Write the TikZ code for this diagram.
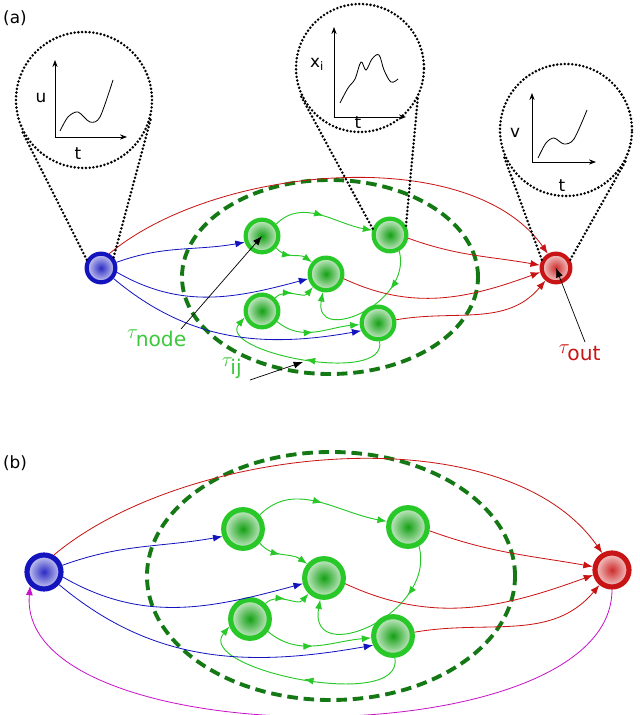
\documentclass[tikz,border=0pt]{standalone}
\usepackage{fontspec}
\setsansfont{DejaVu Sans}
\usetikzlibrary{arrows.meta,decorations.markings,shapes.geometric}
\definecolor{gb}{RGB}{40,200,40}
\definecolor{gf}{RGB}{20,160,20}
\definecolor{dg}{RGB}{20,120,20}
\definecolor{bb}{RGB}{20,20,190}
\definecolor{rr}{RGB}{200,20,20}
\definecolor{mg}{RGB}{200,20,200}
\definecolor{gt}{RGB}{60,200,60}
\begin{document}
\begin{tikzpicture}[x=0.03cm,y=0.03cm,
  gn/.style={circle,draw=gb,shade,inner color=gf,outer color=gf!20!white,inner sep=0pt},
  bn/.style={circle,draw=bb,shade,inner color=bb!90!white,outer color=bb!20!white,inner sep=0pt},
  rn/.style={circle,draw=rr,shade,inner color=rr!90!white,outer color=rr!20!white,inner sep=0pt},
  mk/.style={postaction={decorate},decoration={markings,mark=at position #1 with {\arrow{Latex[length=8pt,width=6pt]}}}},
  ge/.style={draw=gb,line width=0.8pt,mk=#1,-{Latex[length=8pt,width=6pt]}},
  ge/.default=0.5,
  re/.style={draw=rr,line width=0.7pt,-{Latex[length=8pt,width=6pt]}},
  be/.style={draw=bb,line width=0.7pt,-{Latex[length=8pt,width=6pt]}},
  ell/.style={draw=dg,line width=3.3pt,dash pattern=on 9pt off 5pt},
  dot/.style={line width=2.4pt,dash pattern=on 0pt off 3.2pt,line cap=round},
  ins/.style={circle,dot,draw,inner sep=0pt},
  ax/.style={line width=0.8pt,-{Stealth[length=6pt]}},
  lab/.style={font=\sffamily\Large}
]
\useasboundingbox (0,0) rectangle (640,715);
\newcommand{\netedges}{%
  \draw[ge] (A.40) to[out=45,in=170] (D.165);
  \draw[ge=0.45] (A.-40) to[out=-50,in=145] (B.140);
  \draw[ge=0.45] (C.45) to[out=45,in=-130] (B.-135);
  \draw[ge=0.45] (C.-35) to[out=-40,in=185] (E.185);
  \draw[ge=0.3] (D.-60) to[out=-75,in=-100,looseness=1.6] (B.-100);
  \draw[ge=0.5] (E.-85) to[out=-80,in=230,looseness=0.85] (C.200);
  \draw[re] (In.60) to[out=40,in=125,looseness=0.8] (Out.120);
  \draw[re] (D.-10) to[out=-20,in=170] (Out.170);
  \draw[re] (B.-15) to[out=-25,in=200] (Out.195);
  \draw[re] (E.10) to[out=10,in=230] (Out.230);
  \draw[be] (In.20) to[out=20,in=190] (A.200);
  \draw[be] (In.-15) to[out=-30,in=195] (B.195);
  \draw[be] (In.-40) to[out=-40,in=190] (E.205);
}
% ---------- panel (a)
\node[lab] (la) at (15,697) {(a)};
\node[ell,ellipse,minimum width=8.88cm,minimum height=5.82cm] (EA) at (330,438) {};
\begin{scope}[every node/.append style={line width=3.6pt}]
\node[bn,minimum size=0.86cm] (In) at (101,447) {};
\node[rn,minimum size=0.86cm] (Out) at (556,447) {};
\node[gn,minimum size=0.98cm] (A) at (262,479) {};
\node[gn,minimum size=0.98cm] (B) at (326,441) {};
\node[gn,minimum size=0.98cm] (C) at (262,404) {};
\node[gn,minimum size=0.98cm] (D) at (390,480) {};
\node[gn,minimum size=0.98cm] (E) at (378,392) {};
\end{scope}
\netedges
% insets
\node[ins,minimum size=4.08cm] (c1) at (84,615) {};
\node[ins,minimum size=3.84cm] (c2) at (360,647) {};
\node[ins,minimum size=3.96cm] (c3) at (566,585) {};
\draw[dot] (In.150) -- (c1.205);
\draw[dot] (In.40) -- (c1.-15);
\draw[dot] (D.160) -- (c2.205);
\draw[dot] (D.30) -- (c2.-28);
\draw[dot] (Out.150) -- (c3.203);
\draw[dot] (Out.30) -- (c3.-25);
\coordinate (o1) at (55,578); \coordinate (y1) at (55,655); \coordinate (x1) at (127,578);
\draw[ax] (o1) -- (y1); \draw[ax] (o1) -- (x1);
\draw[line width=0.7pt] plot[smooth] coordinates {(60,584)(68,598)(78,603)(90,593)(100,598)(113,635)};
\node[lab] (u) at (41,617) {u}; \node[lab] (t1) at (78,561) {t};
\coordinate (o2) at (334,598); \coordinate (y2) at (334,688); \coordinate (x2) at (406,598);
\draw[ax] (o2) -- (y2); \draw[ax] (o2) -- (x2);
\draw[line width=0.7pt] plot[smooth,tension=0.6] coordinates {(340,612)(348,627)(355,636)(361,653)(366,645)(372,656)(379,660)(384,645)(391,633)(398,636)};
\node[lab] (xi) at (317,651) {x\textsubscript{i}}; \node[lab] (t2) at (358,592) {t};
\coordinate (o3) at (532,553); \coordinate (y3) at (532,622); \coordinate (x3) at (596,553);
\draw[ax] (o3) -- (y3); \draw[ax] (o3) -- (x3);
\draw[line width=0.7pt] plot[smooth] coordinates {(538,557)(546,572)(554,577)(564,571)(574,576)(587,605)};
\node[lab] (v) at (515,582) {v}; \node[lab] (t3) at (562,529) {t};
% tau labels
\node[text=gt,font=\LARGE] (tn) at (157,377) {$\tau_{\textsf{node}}$};
\node[text=gt,font=\LARGE] (tij) at (232,347) {$\tau_{\textsf{ij}}$};
\node[text=rr,font=\LARGE] (to) at (580,362) {$\tau_{\textsf{out}}$};
\coordinate (tij2) at (303,353);
\draw[-{Latex[length=8pt]},line width=0.6pt] (181,386) -- (A.center);
\draw[-{Latex[length=8pt]},line width=0.6pt] (250,335) -- (tij2);
\draw[-{Latex[length=8pt]},line width=0.6pt] (585,373) -- (Out.center);
% ---------- panel (b)
\node[lab] (lb) at (15,252) {(b)};
\node[ell,ellipse,minimum width=11.04cm,minimum height=7.44cm] (EB) at (331,139) {};
\begin{scope}[every node/.append style={line width=4.4pt}]
\node[bn,minimum size=1.02cm] (In) at (44,143) {};
\node[rn,minimum size=1.02cm] (Out) at (612,145) {};
\node[gn,minimum size=1.16cm] (A) at (243,186) {};
\node[gn,minimum size=1.16cm] (B) at (324,137) {};
\node[gn,minimum size=1.16cm] (C) at (250,96) {};
\node[gn,minimum size=1.16cm] (D) at (408,188) {};
\node[gn,minimum size=1.16cm] (E) at (393,79) {};
\end{scope}
\netedges
\draw[draw=mg,line width=0.7pt,-{Latex[length=8pt,width=6pt]}] (Out.-90) to[out=-90,in=-95,looseness=0.75] (In.-135);
\end{tikzpicture}
\end{document}
